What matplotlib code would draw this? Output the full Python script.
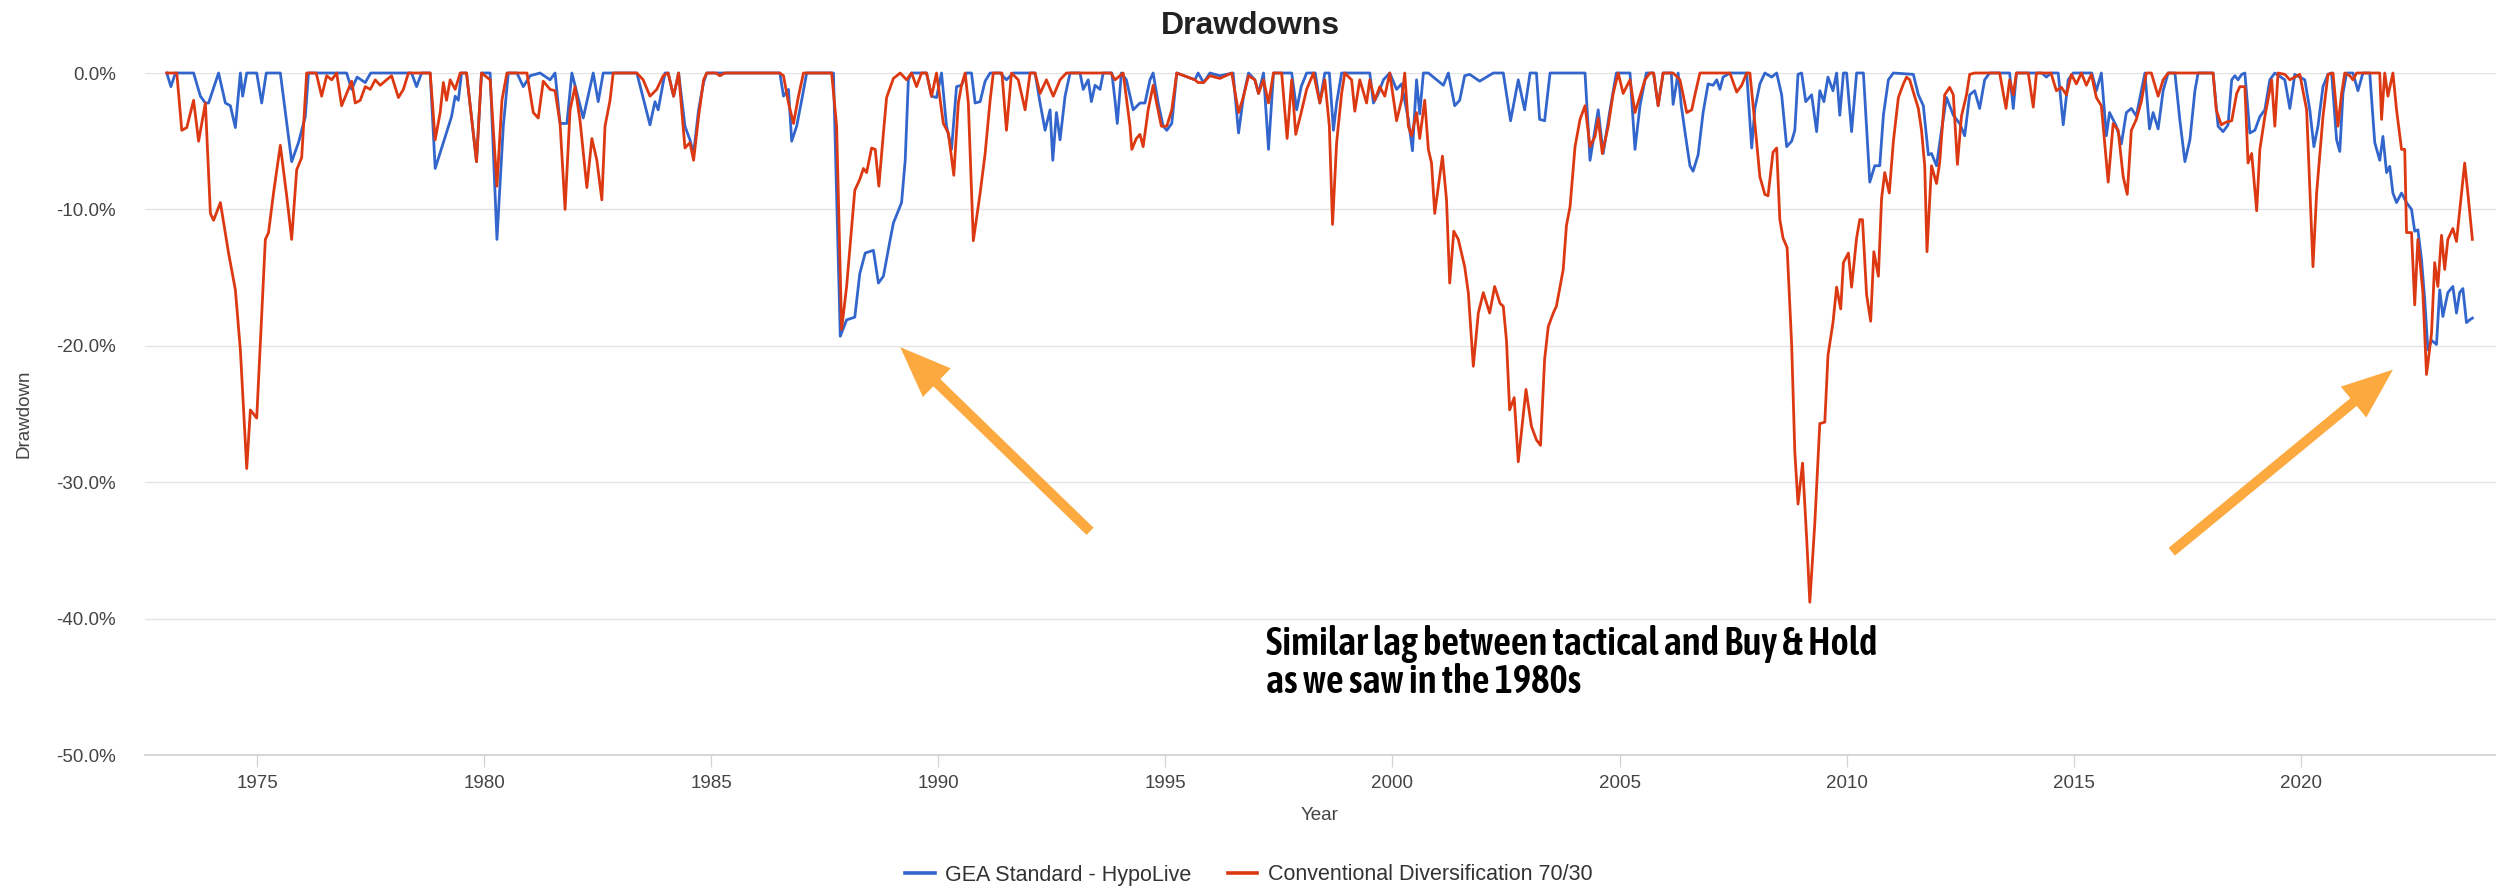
import matplotlib
matplotlib.use("Agg")
import numpy as np
import matplotlib.pyplot as plt
from matplotlib import font_manager
from matplotlib.lines import Line2D
from matplotlib.patches import Polygon
from matplotlib.ticker import FixedLocator, FuncFormatter
from matplotlib.transforms import IdentityTransform

# ---------------------------------------------------------------- data
# Drawdown (%) of each strategy, sampled at its turning points (decimal year)
gea_years = [
    1973.01, 1973.10, 1973.20, 1973.60, 1973.75, 1973.86, 1973.93, 1974.15, 1974.30, 1974.41,
    1974.52, 1974.63, 1974.68, 1974.77, 1974.99, 1975.10, 1975.20, 1975.51, 1975.76, 1975.91,
    1976.06, 1976.13, 1976.97, 1977.08, 1977.20, 1977.38, 1977.50, 1978.40, 1978.51, 1978.62,
    1978.81, 1978.92, 1979.10, 1979.28, 1979.36, 1979.43, 1979.50, 1979.61, 1979.83, 1979.94,
    1980.13, 1980.28, 1980.42, 1980.53, 1980.72, 1980.86, 1981.01, 1981.23, 1981.45, 1981.56,
    1981.67, 1981.82, 1981.93, 1982.18, 1982.40, 1982.51, 1982.62, 1983.36, 1983.65, 1983.76,
    1983.83, 1983.98, 1984.05, 1984.17, 1984.28, 1984.42, 1984.53, 1984.61, 1984.72, 1984.83,
    1984.90, 1986.51, 1986.59, 1986.70, 1986.77, 1986.88, 1986.99, 1987.10, 1987.69, 1987.84,
    1987.98, 1988.16, 1988.27, 1988.39, 1988.57, 1988.68, 1988.79, 1988.94, 1989.01, 1989.19,
    1989.27, 1989.34, 1989.41, 1989.74, 1989.85, 1989.96, 1990.07, 1990.18, 1990.29, 1990.40,
    1990.51, 1990.62, 1990.73, 1990.81, 1990.92, 1991.03, 1991.14, 1991.36, 1991.50, 1991.65,
    1992.13, 1992.24, 1992.35, 1992.46, 1992.52, 1992.60, 1992.68, 1992.79, 1992.90, 1993.12,
    1993.19, 1993.30, 1993.37, 1993.45, 1993.56, 1993.63, 1993.82, 1993.89, 1993.94, 1994.03,
    1994.14, 1994.29, 1994.44, 1994.55, 1994.66, 1994.73, 1994.84, 1994.95, 1995.03, 1995.14,
    1995.25, 1995.65, 1995.72, 1995.84, 1995.98, 1996.20, 1996.49, 1996.61, 1996.72, 1996.83,
    1996.97, 1997.05, 1997.16, 1997.27, 1997.38, 1997.78, 1997.89, 1997.99, 1998.11, 1998.30,
    1998.40, 1998.51, 1998.61, 1998.70, 1998.77, 1998.88, 1999.50, 1999.58, 1999.69, 1999.80,
    1999.94, 2000.09, 2000.20, 2000.35, 2000.44, 2000.53, 2000.60, 2000.68, 2000.79, 2001.12,
    2001.23, 2001.37, 2001.48, 2001.59, 2001.70, 2001.92, 2002.22, 2002.44, 2002.60, 2002.77,
    2002.91, 2003.03, 2003.17, 2003.24, 2003.35, 2003.47, 2004.24, 2004.35, 2004.53, 2004.64,
    2004.79, 2004.93, 2005.23, 2005.34, 2005.45, 2005.59, 2005.75, 2005.85, 2005.96, 2006.14,
    2006.18, 2006.29, 2006.36, 2006.44, 2006.55, 2006.62, 2006.73, 2006.84, 2006.95, 2007.06,
    2007.14, 2007.21, 2007.28, 2007.43, 2007.80, 2007.91, 2007.98, 2008.09, 2008.20, 2008.35,
    2008.46, 2008.57, 2008.68, 2008.79, 2008.86, 2008.93, 2009.01, 2009.10, 2009.23, 2009.34,
    2009.41, 2009.50, 2009.59, 2009.70, 2009.78, 2009.85, 2009.93, 2010.00, 2010.11, 2010.22,
    2010.37, 2010.51, 2010.62, 2010.73, 2010.81, 2010.92, 2011.03, 2011.47, 2011.58, 2011.69,
    2011.80, 2011.87, 2011.98, 2012.09, 2012.20, 2012.35, 2012.49, 2012.60, 2012.71, 2012.82,
    2012.93, 2013.04, 2013.15, 2013.59, 2013.67, 2013.74, 2014.30, 2014.40, 2014.50, 2014.66,
    2014.77, 2014.88, 2014.99, 2015.40, 2015.50, 2015.61, 2015.72, 2015.79, 2015.94, 2016.05,
    2016.16, 2016.27, 2016.38, 2016.49, 2016.57, 2016.67, 2016.75, 2016.86, 2016.97, 2017.08,
    2017.23, 2017.34, 2017.45, 2017.56, 2017.67, 2017.74, 2018.07, 2018.18, 2018.29, 2018.40,
    2018.48, 2018.55, 2018.62, 2018.70, 2018.77, 2018.88, 2018.99, 2019.10, 2019.21, 2019.32,
    2019.43, 2019.65, 2019.76, 2019.87, 2020.09, 2020.20, 2020.29, 2020.38, 2020.49, 2020.60,
    2020.68, 2020.79, 2020.86, 2020.93, 2021.01, 2021.15, 2021.26, 2021.37, 2021.52, 2021.63,
    2021.74, 2021.81, 2021.89, 2021.96, 2022.03, 2022.11, 2022.22, 2022.33, 2022.44, 2022.51,
    2022.58, 2022.66, 2022.73, 2022.80, 2022.88, 2022.99, 2023.06, 2023.13, 2023.24, 2023.35,
    2023.43, 2023.50, 2023.57, 2023.65, 2023.72, 2023.78,
]
gea_drawdown = [
    0.0, -1.0, 0.0, 0.0, -1.7, -2.2, -2.2, 0.0, -2.2, -2.4,
    -4.0, 0.0, -1.7, 0.0, 0.0, -2.2, 0.0, 0.0, -6.5, -5.1,
    -3.2, 0.0, 0.0, -1.2, -0.3, -0.7, 0.0, 0.0, -1.0, 0.0,
    0.0, -7.0, -5.1, -3.2, -1.7, -2.0, 0.0, 0.0, -6.5, 0.0,
    0.0, -12.2, -3.9, 0.0, 0.0, -1.0, -0.2, 0.0, -0.5, 0.0,
    -3.7, -3.7, 0.0, -3.3, 0.0, -2.1, 0.0, 0.0, -3.8, -2.1,
    -2.7, 0.0, 0.0, -1.7, 0.0, -3.9, -4.9, -5.9, -2.7, -0.7,
    0.0, 0.0, -1.7, -1.2, -5.0, -3.9, -2.0, 0.0, 0.0, -19.3,
    -18.1, -17.9, -14.7, -13.2, -13.0, -15.4, -14.9, -12.2, -11.0, -9.5,
    -6.4, -0.5, 0.0, 0.0, -1.7, -1.8, 0.0, -3.9, -5.6, -1.0,
    -0.9, 0.0, 0.0, -2.2, -2.1, -0.6, 0.0, 0.0, -0.5, 0.0,
    0.0, -2.2, -4.2, -2.7, -6.4, -2.9, -4.9, -1.7, 0.0, 0.0,
    -1.2, -0.5, -2.1, -0.9, -1.2, 0.0, 0.0, -2.0, -3.7, 0.0,
    -0.5, -2.7, -2.2, -2.2, -0.5, 0.0, -2.2, -3.9, -4.2, -3.7,
    0.0, -0.5, 0.0, -0.7, 0.0, -0.2, 0.0, -4.4, -1.7, 0.0,
    -0.5, -1.5, 0.0, -5.6, 0.0, 0.0, -2.7, -1.0, 0.0, 0.0,
    -2.2, 0.0, 0.0, -4.2, -2.2, 0.0, 0.0, -2.2, -1.5, -0.5,
    0.0, -1.2, -0.8, -3.4, -5.7, -0.5, -3.0, 0.0, 0.0, -0.9,
    0.0, -2.4, -2.0, -0.2, -0.1, -0.6, 0.0, 0.0, -3.5, -0.5,
    -2.7, 0.0, 0.0, -3.4, -3.5, 0.0, 0.0, -6.4, -2.7, -5.9,
    -2.7, 0.0, 0.0, -5.6, -2.4, 0.0, 0.0, -2.4, 0.0, 0.0,
    -2.3, 0.0, -2.4, -4.3, -6.8, -7.2, -6.0, -2.9, -0.8, -0.9,
    -0.5, -1.2, -0.3, 0.0, 0.0, -5.5, -2.6, -0.8, 0.0, -0.3,
    0.0, -1.6, -5.4, -5.0, -4.2, -0.1, 0.0, -2.1, -1.6, -4.3,
    -1.3, -2.1, -0.3, -1.3, 0.0, -3.1, 0.0, 0.0, -4.3, 0.0,
    0.0, -8.0, -6.8, -6.8, -3.1, -0.5, 0.0, -0.1, -1.6, -2.4,
    -6.0, -5.9, -6.8, -4.2, -1.8, -3.1, -3.7, -4.6, -1.6, -1.3,
    -2.6, -0.5, 0.0, 0.0, -2.6, 0.0, 0.0, -0.3, 0.0, 0.0,
    -3.8, -0.5, 0.0, 0.0, -1.3, 0.0, -4.6, -2.9, -3.9, -5.2,
    -2.9, -2.6, -3.15, -1.3, 0.0, -4.1, -2.9, -4.1, -1.3, 0.0,
    0.0, -3.5, -6.5, -4.9, -1.3, 0.0, 0.0, -3.9, -4.3, -3.8,
    -0.5, -0.2, -0.5, -0.1, 0.0, -4.4, -4.2, -3.2, -2.7, -0.5,
    0.0, -0.5, -2.6, -0.1, -0.5, -2.7, -5.4, -3.9, -1.0, -0.1,
    0.0, -4.9, -5.75, -1.5, 0.0, 0.0, -1.3, 0.0, 0.0, -5.1,
    -6.4, -4.65, -7.3, -6.85, -8.8, -9.5, -8.8, -9.5, -10.0, -11.6,
    -11.5, -13.7, -16.6, -20.3, -19.6, -19.9, -15.9, -17.85, -16.1, -15.65,
    -17.6, -16.1, -15.8, -18.3, -18.1, -17.97,
]

conv_years = [
    1973.01, 1973.23, 1973.34, 1973.45, 1973.60, 1973.71, 1973.86, 1973.97, 1974.04, 1974.19,
    1974.37, 1974.52, 1974.63, 1974.77, 1974.85, 1974.99, 1975.07, 1975.18, 1975.25, 1975.36,
    1975.51, 1975.65, 1975.76, 1975.87, 1975.98, 1976.09, 1976.30, 1976.42, 1976.53, 1976.64,
    1976.75, 1976.86, 1976.97, 1977.08, 1977.16, 1977.27, 1977.38, 1977.49, 1977.60, 1977.71,
    1977.85, 1977.96, 1978.11, 1978.22, 1978.33, 1978.81, 1978.92, 1979.03, 1979.10, 1979.17,
    1979.25, 1979.36, 1979.47, 1979.61, 1979.83, 1979.94, 1980.13, 1980.28, 1980.39, 1980.50,
    1980.94, 1981.08, 1981.19, 1981.30, 1981.45, 1981.56, 1981.67, 1981.78, 1981.89, 1982.00,
    1982.11, 1982.26, 1982.37, 1982.48, 1982.59, 1982.66, 1982.77, 1982.84, 1983.36, 1983.50,
    1983.65, 1983.80, 1983.94, 1984.05, 1984.17, 1984.28, 1984.42, 1984.53, 1984.61, 1984.72,
    1984.83, 1984.90, 1985.10, 1985.19, 1985.30, 1986.51, 1986.59, 1986.70, 1986.81, 1986.92,
    1987.03, 1987.65, 1987.76, 1987.87, 1987.98, 1988.16, 1988.27, 1988.35, 1988.42, 1988.53,
    1988.61, 1988.69, 1988.79, 1988.86, 1989.01, 1989.16, 1989.30, 1989.41, 1989.52, 1989.63,
    1989.74, 1989.85, 1989.96, 1990.11, 1990.22, 1990.34, 1990.44, 1990.51, 1990.59, 1990.66,
    1990.77, 1990.92, 1991.03, 1991.14, 1991.21, 1991.40, 1991.50, 1991.61, 1991.76, 1991.91,
    1992.02, 1992.13, 1992.24, 1992.38, 1992.53, 1992.68, 1992.82, 1993.80, 1993.89, 1994.07,
    1994.22, 1994.26, 1994.36, 1994.44, 1994.51, 1994.62, 1994.73, 1994.80, 1994.91, 1995.03,
    1995.14, 1995.25, 1995.65, 1995.72, 1995.84, 1995.98, 1996.20, 1996.46, 1996.61, 1996.72,
    1996.83, 1996.97, 1997.05, 1997.16, 1997.27, 1997.38, 1997.56, 1997.68, 1997.78, 1997.87,
    1997.99, 1998.11, 1998.26, 1998.40, 1998.51, 1998.61, 1998.68, 1998.77, 1998.88, 1998.95,
    1999.10, 1999.17, 1999.28, 1999.43, 1999.50, 1999.61, 1999.72, 1999.83, 1999.94, 2000.09,
    2000.20, 2000.27, 2000.35, 2000.42, 2000.53, 2000.60, 2000.71, 2000.79, 2000.86, 2000.93,
    2001.01, 2001.10, 2001.19, 2001.26, 2001.35, 2001.45, 2001.59, 2001.67, 2001.78, 2001.89,
    2002.00, 2002.14, 2002.25, 2002.37, 2002.44, 2002.51, 2002.58, 2002.68, 2002.77, 2002.94,
    2003.06, 2003.17, 2003.26, 2003.35, 2003.43, 2003.54, 2003.61, 2003.76, 2003.83, 2003.91,
    2004.02, 2004.13, 2004.24, 2004.35, 2004.46, 2004.53, 2004.62, 2004.75, 2004.86, 2004.97,
    2005.08, 2005.23, 2005.34, 2005.45, 2005.56, 2005.67, 2005.75, 2005.85, 2005.96, 2006.18,
    2006.33, 2006.40, 2006.48, 2006.59, 2006.66, 2006.77, 2007.43, 2007.58, 2007.69, 2007.80,
    2007.87, 2007.98, 2008.09, 2008.20, 2008.27, 2008.38, 2008.46, 2008.53, 2008.60, 2008.69,
    2008.79, 2008.86, 2008.93, 2009.03, 2009.12, 2009.19, 2009.30, 2009.41, 2009.52, 2009.59,
    2009.70, 2009.78, 2009.87, 2009.93, 2010.04, 2010.11, 2010.22, 2010.29, 2010.35, 2010.44,
    2010.53, 2010.60, 2010.70, 2010.77, 2010.84, 2010.94, 2011.03, 2011.14, 2011.25, 2011.32,
    2011.39, 2011.47, 2011.58, 2011.65, 2011.72, 2011.77, 2011.87, 2011.98, 2012.05, 2012.16,
    2012.27, 2012.35, 2012.44, 2012.53, 2012.64, 2012.71, 2012.82, 2013.37, 2013.51, 2013.59,
    2013.67, 2013.74, 2014.00, 2014.11, 2014.18, 2014.50, 2014.62, 2014.73, 2014.84, 2014.95,
    2015.06, 2015.17, 2015.28, 2015.39, 2015.50, 2015.61, 2015.76, 2015.87, 2015.98, 2016.09,
    2016.18, 2016.27, 2016.38, 2016.49, 2016.60, 2016.71, 2016.86, 2016.97, 2017.08, 2018.07,
    2018.14, 2018.25, 2018.36, 2018.48, 2018.59, 2018.66, 2018.77, 2018.84, 2018.92, 2019.03,
    2019.10, 2019.21, 2019.36, 2019.43, 2019.50, 2019.65, 2019.76, 2019.98, 2020.13, 2020.27,
    2020.35, 2020.49, 2020.60, 2020.71, 2020.82, 2020.90, 2020.97, 2021.08, 2021.15, 2021.23,
    2021.74, 2021.78, 2021.85, 2021.92, 2022.03, 2022.11, 2022.22, 2022.29, 2022.33, 2022.44,
    2022.51, 2022.58, 2022.69, 2022.77, 2022.88, 2022.95, 2023.02, 2023.10, 2023.17, 2023.24,
    2023.35, 2023.43, 2023.54, 2023.61, 2023.68, 2023.78,
]
conv_drawdown = [
    0.0, 0.0, -4.2, -4.0, -2.0, -5.0, -2.2, -10.3, -10.8, -9.5,
    -13.2, -15.9, -20.3, -29.0, -24.7, -25.3, -19.8, -12.2, -11.7, -8.8,
    -5.3, -9.0, -12.2, -7.1, -6.2, 0.0, 0.0, -1.7, -0.2, -0.5,
    0.0, -2.4, -1.5, -0.6, -2.2, -2.0, -1.0, -1.2, -0.5, -0.9,
    -0.5, -0.2, -1.8, -1.2, 0.0, 0.0, -4.9, -2.9, -0.7, -2.0,
    -0.5, -1.2, 0.0, 0.0, -6.5, 0.0, -0.5, -8.3, -2.0, 0.0,
    0.0, -2.9, -3.3, -0.6, -1.2, -1.3, -3.7, -10.0, -2.7, -1.0,
    -3.5, -8.4, -4.8, -6.4, -9.3, -3.9, -2.0, 0.0, 0.0, -0.5,
    -1.7, -1.2, -0.2, 0.0, -1.7, 0.0, -5.5, -5.1, -6.4, -3.2,
    -0.5, 0.0, 0.0, -0.2, 0.0, 0.0, -0.2, -2.2, -3.7, -1.7,
    0.0, 0.0, -3.9, -18.8, -15.65, -8.6, -7.8, -7.0, -7.3, -5.5,
    -5.6, -8.3, -4.4, -1.8, -0.4, 0.0, -0.5, 0.0, -1.0, 0.0,
    0.0, -1.7, 0.0, -3.7, -4.4, -7.5, -2.2, -0.9, 0.0, -2.2,
    -12.3, -8.8, -5.9, -2.0, 0.0, 0.0, -4.2, 0.0, -0.5, -2.7,
    0.0, 0.0, -1.5, -0.5, -1.7, -0.5, 0.0, 0.0, -0.5, 0.0,
    -3.9, -5.6, -4.8, -4.5, -5.4, -2.7, -0.9, -2.1, -3.9, -3.9,
    -2.7, 0.0, -0.5, -0.7, -0.7, -0.2, -0.4, 0.0, -2.9, -1.7,
    -0.2, -0.5, -1.5, -0.5, -2.2, 0.0, 0.0, -4.8, -0.5, -4.5,
    -2.9, -1.2, 0.0, -2.2, -0.5, -3.9, -11.1, -5.1, -1.5, 0.0,
    -0.5, -2.8, -0.5, -2.2, -0.5, -2.0, -1.0, -1.7, 0.0, -3.5,
    -2.0, 0.0, -3.9, -4.6, -2.9, -4.8, -2.0, -5.6, -6.6, -10.3,
    -8.3, -6.1, -9.3, -15.4, -11.6, -12.2, -14.2, -16.1, -21.5, -17.6,
    -16.1, -17.6, -15.65, -16.9, -17.1, -19.6, -24.7, -23.8, -28.5, -23.2,
    -25.9, -26.9, -27.3, -21.0, -18.6, -17.6, -17.1, -14.4, -11.2, -9.8,
    -5.4, -3.4, -2.4, -5.4, -4.65, -3.3, -5.9, -3.9, -1.5, 0.0,
    -1.5, -0.5, -2.9, -1.7, -0.5, 0.0, 0.0, -2.4, 0.0, 0.0,
    -0.5, -1.6, -2.9, -2.7, -1.6, 0.0, 0.0, -1.4, -0.9, 0.0,
    0.0, -3.7, -7.6, -8.9, -9.0, -5.8, -5.5, -10.75, -12.1, -12.8,
    -19.9, -27.8, -31.6, -28.6, -34.1, -38.8, -33.0, -25.7, -25.6, -20.7,
    -18.3, -15.7, -17.3, -13.9, -13.2, -15.7, -12.1, -10.75, -10.75, -16.25,
    -18.2, -13.1, -14.9, -9.2, -7.3, -8.8, -5.0, -1.8, -0.8, -0.3,
    -0.5, -1.4, -2.6, -4.2, -6.8, -13.1, -6.8, -8.1, -6.55, -1.6,
    -1.05, -1.6, -6.7, -3.15, -1.6, -0.1, 0.0, 0.0, -2.6, -0.5,
    -1.6, 0.0, 0.0, -2.5, 0.0, 0.0, -1.3, -1.05, -1.6, -0.1,
    -0.8, 0.0, -0.9, -0.1, -1.8, -2.4, -8.0, -3.7, -4.2, -7.6,
    -8.9, -4.2, -3.4, -2.1, 0.0, 0.0, -1.7, -0.5, 0.0, 0.0,
    -2.7, -3.8, -3.6, -3.5, -1.5, -1.0, -1.0, -6.6, -5.9, -10.1,
    -5.6, -3.2, -0.5, -3.9, 0.0, -0.1, -0.5, -0.1, -2.7, -14.2,
    -8.8, -3.2, -0.1, 0.0, -3.9, -1.5, 0.0, -0.2, -0.5, 0.0,
    0.0, -3.4, 0.0, -1.7, 0.0, -2.7, -5.6, -5.6, -11.7, -11.7,
    -17.0, -12.2, -16.1, -22.1, -19.1, -13.9, -15.65, -11.9, -14.4, -12.2,
    -11.4, -12.35, -8.8, -6.6, -8.8, -12.2,
]

series_names = ["GEA Standard - HypoLive", "Conventional Diversification 70/30"]
series_colors = ["#3366cc", "#dc3912"]
year_ticks = [1975, 1980, 1985, 1990, 1995, 2000, 2005, 2010, 2015, 2020]
pct_ticks = [0, -10, -20, -30, -40, -50]
chart_title = "Drawdowns"
note_lines = ["Similar lag between tactical and Buy & Hold", "as we saw in the 1980s"]

# callout arrows: (year, drawdown %) of tail and tip
arrow_tails = [(1993.34, -33.6), (2017.16, -35.1)]
arrow_tips = [(1989.16, -20.1), (2022.03, -21.75)]
arrow_color = "#fca93f"

# ---------------------------------------------------------------- fonts
plt.rcParams["font.family"] = ["Liberation Sans", "DejaVu Sans"]


def _weight_num(w):
    if isinstance(w, (int, float)):
        return int(w)
    return font_manager.weight_dict.get(str(w).lower(), 400)


def pick_note_font():
    """Heaviest installed narrow/condensed sans face (capped near semibold)."""
    cands = []
    for f in font_manager.fontManager.ttflist:
        nm = f.name.lower()
        narrow = ("narrow" in nm or "condensed" in nm or
                  f.stretch in ("condensed", "semi-condensed"))
        if narrow and "mono" not in nm and "serif" not in nm:
            cands.append((f.name, _weight_num(f.weight)))
    if not cands:
        return "Roboto", 500
    # prefer weights around 600
    cands.sort(key=lambda c: abs(min(c[1], 700) - 600))
    return cands[0]


note_family, note_weight = pick_note_font()

# ---------------------------------------------------------------- figure
W, H, DPI = 2496, 890, 100
fig = plt.figure(figsize=(W / DPI, H / DPI), dpi=DPI, facecolor="white")

left_px, right_px, top_px, bottom_px = 145, 2496, 73, 755
ax = fig.add_axes([left_px / W, 1 - bottom_px / H,
                   (right_px - left_px) / W, (bottom_px - top_px) / H])
ax.set_xlim(1972.53, 2024.30)
ax.set_ylim(-50, 0)

for s in ["top", "right", "left"]:
    ax.spines[s].set_visible(False)
ax.spines["bottom"].set_color("#c9ccd0")
ax.spines["bottom"].set_linewidth(1.1)

ax.yaxis.set_major_locator(FixedLocator(pct_ticks))
ax.yaxis.set_major_formatter(FuncFormatter(lambda v, _: f"{v:.1f}%"))
ax.xaxis.set_major_locator(FixedLocator(year_ticks))
ax.xaxis.set_major_formatter(FuncFormatter(lambda v, _: f"{int(round(v))}"))
ax.grid(axis="y", color="#e4e4e4", linewidth=1.0)
ax.set_axisbelow(True)
ax.tick_params(axis="y", length=0, pad=21, labelsize=13.5, labelcolor="#444444")
ax.tick_params(axis="x", length=8.5, width=0.9, color="#d2d2d2", pad=6,
               labelsize=13.5, labelcolor="#444444")

# drawdown lines (second series on top)
for yrs, dd, c in [(gea_years, gea_drawdown, series_colors[0]),
                   (conv_years, conv_drawdown, series_colors[1])]:
    ax.plot(yrs, dd, color=c, linewidth=2.0, solid_joinstyle="round", clip_on=False)

# ---------------------------------------------------------------- labels
fig.text(1250 / W, 1 - 26 / H, chart_title, ha="center", va="center",
         fontsize=23, fontweight="bold", color="#222222")
fig.text(1320 / W, 1 - 815 / H, "Year", ha="center", va="center",
         fontsize=13.5, color="#444444")
fig.text(24 / W, 1 - 414 / H, "Drawdown", ha="center", va="center",
         rotation=90, fontsize=13.5, color="#444444")

handles = [Line2D([], [], color=c, linewidth=2.6) for c in series_colors]
fig.legend(handles, series_names, loc="center", bbox_to_anchor=(1249 / W, 1 - 875 / H),
           ncol=2, frameon=False, fontsize=15.5, handlelength=1.35, handletextpad=0.5,
           columnspacing=1.7, labelcolor="#333333", borderpad=0)

# two-line note, sized so the first line spans ~613 px
note_texts = []
for line, base_px in zip(note_lines, [655, 693]):
    note_texts.append(fig.text(1266 / W, 1 - base_px / H, line, ha="left", va="baseline",
                               fontsize=27, family=[note_family, "DejaVu Sans"],
                               fontweight=note_weight, color="black"))
fig.canvas.draw()
renderer = fig.canvas.get_renderer()
first_w = note_texts[0].get_window_extent(renderer).width
note_size = 27 * 613.0 / first_w
for t in note_texts:
    t.set_fontsize(note_size)


# ---------------------------------------------------------------- arrows
def callout_arrow(tail, tip, color, shaft_px=10.0, head_len_px=51.0, head_w_px=40.0):
    p0 = np.asarray(ax.transData.transform(tail))
    p1 = np.asarray(ax.transData.transform(tip))
    d = p1 - p0
    u = d / np.hypot(*d)
    n = np.array([-u[1], u[0]])
    base = p1 - u * head_len_px
    shaft_end = base + u * 2.0
    fig.add_artist(Line2D([p0[0], shaft_end[0]], [p0[1], shaft_end[1]],
                          transform=IdentityTransform(), color=color,
                          linewidth=shaft_px * 72 / DPI, solid_capstyle="butt"))
    fig.add_artist(Polygon([p1, base + n * head_w_px / 2, base - n * head_w_px / 2],
                           closed=True, transform=IdentityTransform(),
                           facecolor=color, edgecolor="none"))


for t0, t1 in zip(arrow_tails, arrow_tips):
    callout_arrow(t0, t1, arrow_color)

fig.savefig("out.png", dpi=DPI, facecolor="white")
